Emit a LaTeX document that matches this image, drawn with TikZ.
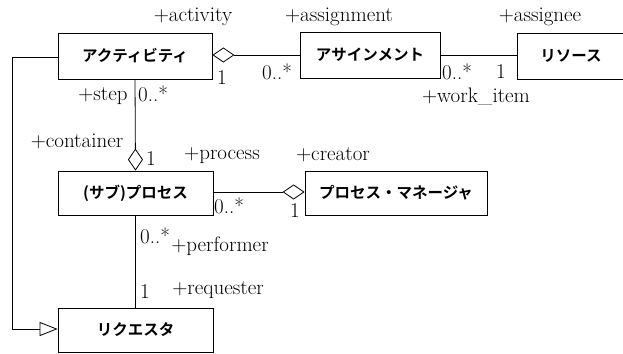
\documentclass[tikz,border=0pt]{standalone}
\usepackage{fontspec}
\newfontfamily\jp{Noto Sans CJK JP Bold}
\usetikzlibrary{arrows.meta}
\begin{document}
\begin{tikzpicture}[x=1pt,y=-1pt,
  cls/.style={draw, line width=0.8pt, inner sep=0pt, font=\jp\fontsize{15.5}{15.5}\selectfont},
  lbl/.style={inner sep=0pt, font=\fontsize{21}{21}\selectfont},
  conn/.style={line width=0.8pt},
  agg/.style={-{Diamond[open,length=22pt,width=15pt,line width=0.8pt]}},
  gen/.style={-{Triangle[open,length=18pt,width=14pt,line width=0.8pt]}}]
\useasboundingbox (0,0) rectangle (623,353);
\node[cls, minimum width=154pt, minimum height=46pt] (act) at (135,56) {アクティビティ};
\node[cls, minimum width=140pt, minimum height=46pt] (asg) at (370,55) {アサインメント};
\node[cls, minimum width=108pt, minimum height=46pt] (res) at (571,56) {リソース};
\node[cls, minimum width=155pt, minimum height=44pt] (proc) at (135.5,193) {(サブ)プロセス};
\node[cls, minimum width=182pt, minimum height=44pt] (mgr) at (396,193) {プロセス・マネージャ};
\node[cls, minimum width=155pt, minimum height=44pt] (req) at (135.5,330) {リクエスタ};
\coordinate (g1) at (12,57);
\coordinate (g2) at (12,329);
% connectors
\draw[conn, agg] (asg.west |- 0,55) -- (act.east |- 0,55);
\draw[conn] (asg.east |- 0,55) -- (res.west |- 0,55);
\draw[conn, agg] (act.south) -- (proc.north);
\draw[conn, agg] (proc.east |- 0,192) -- (mgr.west |- 0,192);
\draw[conn] (proc.south) -- (req.north);
\draw[conn, gen] (act.west |- g1) -- (g1) -- (g2) -- (req.west |- g2);
% labels
\node[lbl] (l1) at (193,17) {+activity};
\node[lbl] (l2) at (339,17) {+assignment};
\node[lbl] (l3) at (540,17) {+assignee};
\node[lbl] (l4) at (222,78) {1};
\node[lbl] (l5) at (277,72) {0..*};
\node[lbl] (l6) at (457,72) {0..*};
\node[lbl] (l7) at (501,72) {1};
\node[lbl] (l8) at (476,97) {+work\_item};
\node[lbl] (l9) at (103,96) {+step};
\node[lbl] (l10) at (153,94) {0..*};
\node[lbl] (l11) at (77,141) {+container};
\node[lbl] (l12) at (151,159) {1};
\node[lbl] (l13) at (222,156) {+process};
\node[lbl] (l14) at (333,155) {+creator};
\node[lbl] (l15) at (229,206) {0..*};
\node[lbl] (l16) at (295,211) {1};
\node[lbl] (l17) at (155,236) {0..*};
\node[lbl] (l18) at (220,246) {+performer};
\node[lbl] (l19) at (145,292) {1};
\node[lbl] (l20) at (218,290) {+requester};
\end{tikzpicture}
\end{document}
